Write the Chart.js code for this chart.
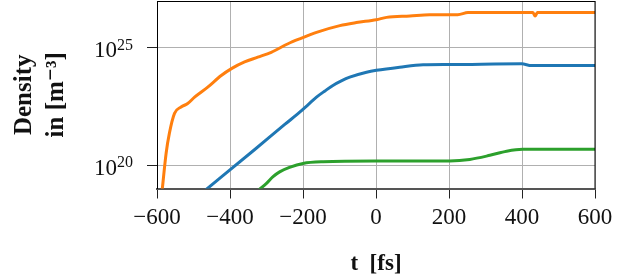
<!DOCTYPE html>
<html>
<head>
<meta charset="utf-8">
<script src="https://cdn.jsdelivr.net/npm/chart.js@4"></script>
<style>
  html, body { margin: 0; padding: 0; background: #fff; }
  canvas { display: block; }
</style>
</head>
<body>
<canvas id="chart-density" width="622" height="276"></canvas>
<script>
// values (t in fs, density in m^-3)
const tOrange = [-586, -575, -566, -552, -534, -516, -497, -461, -424, -396, -360, -324, -287, -241, -204, -163, -99, -54, 1, 29, 93, 147, 224, 252, 430, 436, 442, 600];
const nOrange = [8e18, 3.2e20, 2.3e21, 1.6e22, 3.0e22, 4.2e22, 7.9e22, 2.1e23, 6.6e23, 1.3e24, 2.5e24, 4.0e24, 6.5e24, 1.5e25, 2.6e25, 4.6e25, 8.9e25, 1.2e26, 1.6e26, 2.0e26, 2.3e26, 2.6e26, 2.6e26, 3.2e26, 3.2e26, 2.3e26, 3.2e26, 3.2e26];

const tBlue = [-470, -333, -250, -209, -185, -163, -140, -118, -95, -72, -26, 1, 65, 129, 202, 399, 426, 600];
const nBlue = [7.9e18, 4.5e20, 5.4e21, 1.8e22, 3.9e22, 7.9e22, 1.45e23, 2.5e23, 3.9e23, 5.6e23, 9.1e23, 1.1e24, 1.5e24, 1.9e24, 1.95e24, 2.1e24, 1.75e24, 1.75e24];

const tGreen = [-322, -300, -282, -264, -237, -200, -145, 1, 202, 257, 312, 358, 402, 600];
const nGreen = [8.5e18, 1.66e19, 3.2e19, 5.1e19, 7.9e19, 1.17e20, 1.38e20, 1.48e20, 1.5e20, 1.74e20, 2.6e20, 3.9e20, 4.7e20, 4.7e20];

const xTicks = [-600, -400, -200, 0, 200, 400, 600];
const yTicks = [1e20, 1e25];
const yTickBase = '10';
const yTickExp = ['20', '25'];

const FONT = '"Liberation Serif", "DejaVu Serif", serif';

const toPoints = (xs, ys) => xs.map((x, i) => ({ x: x, y: ys[i] }));

// frame on top/right and 10^n labels on the y axis
const frameAndLabels = {
    id: 'frameAndLabels',
    afterDraw(chart) {
        const { ctx, chartArea: a, scales } = chart;
        const y = scales.y;
        ctx.save();
        ctx.strokeStyle = '#000';
        ctx.lineWidth = 1;
        ctx.beginPath();
        ctx.moveTo(a.left, a.top + 0.5);
        ctx.lineTo(a.right, a.top + 0.5);
        ctx.moveTo(a.right, a.top);
        ctx.lineTo(a.right, a.bottom);
        ctx.stroke();

        ctx.fillStyle = '#111';
        ctx.textAlign = 'left';
        ctx.textBaseline = 'alphabetic';
        yTicks.forEach((v, i) => {
            const py = y.getPixelForValue(v);
            ctx.font = '16px ' + FONT;
            const ew = ctx.measureText(yTickExp[i]).width;
            ctx.font = '23px ' + FONT;
            const bw = ctx.measureText(yTickBase).width;
            const right = a.left - 24;
            ctx.fillText(yTickBase, right - ew - bw, py + 9.5);
            ctx.font = '16px ' + FONT;
            ctx.fillText(yTickExp[i], right - ew, py + 2);
        });
        ctx.restore();
    }
};

const ctxDensity = document.getElementById('chart-density');

const dataDensity = {
    datasets: [
        {
            label: 'blue',
            data: toPoints(tBlue, nBlue),
            borderColor: '#1f77b4',
        },
        {
            label: 'orange',
            data: toPoints(tOrange, nOrange),
            borderColor: '#ff7f0e',
        },
        {
            label: 'green',
            data: toPoints(tGreen, nGreen),
            borderColor: '#2ca02c',
        },
    ],
};

const configDensity = {
    type: 'line',
    data: dataDensity,
    options: {
        responsive: false,
        animation: false,
        devicePixelRatio: 1,
        layout: { padding: { top: 1, right: 27, left: 0, bottom: 0 } },
        elements: {
            point: { radius: 0 },
            line: { borderWidth: 3, cubicInterpolationMode: 'monotone', fill: false },
        },
        plugins: {
            legend: { display: false },
            tooltip: { enabled: false },
        },
        scales: {
            x: {
                type: 'linear',
                min: -600,
                max: 600,
                afterBuildTicks: (scale) => { scale.ticks = xTicks.map(v => ({ value: v })); },
                afterFit: (scale) => { scale.height = 87.5; },
                grid: { color: '#b0b0b0', lineWidth: 1, tickColor: '#222', tickLength: 10 },
                border: { color: '#555', width: 2 },
                ticks: {
                    color: '#111',
                    padding: 6,
                    maxRotation: 0,
                    font: { family: FONT, size: 23 },
                    callback: (v) => (v < 0 ? '\u2212' + Math.abs(v) : String(v)),
                },
                title: {
                    display: true,
                    text: 't  [fs]',
                    color: '#111',
                    padding: { top: 0, bottom: 0 },
                    font: { family: FONT, size: 23, weight: 'bold', lineHeight: 1.0 },
                },
            },
            y: {
                type: 'logarithmic',
                min: 1e19,
                max: 1e27,
                afterBuildTicks: (scale) => { scale.ticks = yTicks.map(v => ({ value: v })); },
                afterFit: (scale) => { scale.width = 157; },
                grid: { color: '#b0b0b0', lineWidth: 1, tickColor: '#222', tickLength: 10 },
                border: { color: '#000', width: 1 },
                ticks: { display: false },
                title: {
                    display: true,
                    text: ['Density', 'in [m\u207B\u00B3]'],
                    color: '#111',
                    padding: { top: 8, bottom: 0 },
                    font: { family: FONT, size: 25, weight: 'bold', lineHeight: 1.3 },
                },
            },
        },
    },
    plugins: [frameAndLabels],
};

new Chart(ctxDensity, configDensity);
</script>
</body>
</html>
